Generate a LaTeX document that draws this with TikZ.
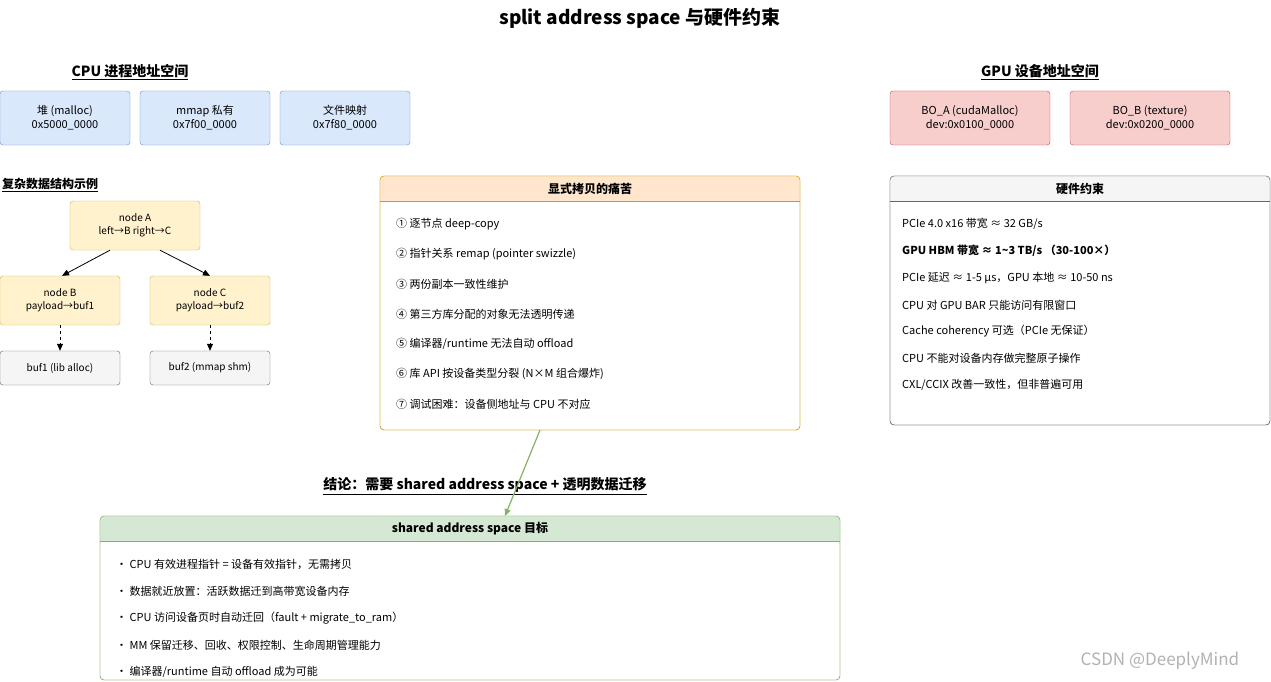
\documentclass[tikz,border=0pt]{standalone}
\usepackage{fontspec}
\setmainfont{Noto Sans CJK SC}
\usetikzlibrary{arrows.meta}
\definecolor{bfill}{HTML}{DAE8FC}\definecolor{bdraw}{HTML}{6C8EBF}
\definecolor{rfill}{HTML}{F8CECC}\definecolor{rdraw}{HTML}{B85450}
\definecolor{yfill}{HTML}{FFF2CC}\definecolor{ydraw}{HTML}{D6B656}
\definecolor{gfill}{HTML}{F5F5F5}\definecolor{gdraw}{HTML}{666666}
\definecolor{ofill}{HTML}{FFE6CC}\definecolor{odraw}{HTML}{D79B00}
\definecolor{grfill}{HTML}{D5E8D4}\definecolor{grdraw}{HTML}{82B366}
\tikzset{
 box/.style={draw, rounded corners=3pt, align=center, inner sep=0pt, font=\fontsize{11}{14}\selectfont},
 item/.style={anchor=west, inner sep=0pt, font=\fontsize{11}{13}\selectfont},
 head/.style={font=\bfseries\fontsize{12}{14}\selectfont, inner sep=0pt},
 sect/.style={font=\bfseries\fontsize{14}{16}\selectfont, inner sep=1pt},
 arr/.style={-{Triangle[length=7pt,width=6pt]}, line width=0.8pt},
}
\newcommand{\ul}[1]{\underline{#1}}
\newcommand{\panel}[7]{% x1,y1,x2,y2,yh,fill,draw
 \draw[#7, fill=white, rounded corners=4pt] (#1,#2) rectangle (#3,#4);
 \fill[#6, rounded corners=4pt] (#1,#2) rectangle (#3,#5+6);
 \fill[white] (#1+0.6,#5) rectangle (#3-0.6,#5+7);
 \draw[#7] (#1,#5) -- (#3,#5);
 \draw[#7, rounded corners=4pt] (#1,#2) rectangle (#3,#4);}
\begin{document}
\begin{tikzpicture}[x=1pt,y=-1pt]
\useasboundingbox[fill=white] (0,0) rectangle (1271,682);
\node[font=\bfseries\fontsize{19}{22}\selectfont] (title) at (640,18) {split address space 与硬件约束};
\node[sect] (cpuh) at (130,72) {\ul{CPU 进程地址空间}};
\node[sect] (gpuh) at (1040,72) {\ul{GPU 设备地址空间}};
\node[box, fill=bfill, draw=bdraw, minimum width=130pt, minimum height=54pt] (heap) at (65,118) {堆 (malloc)\\0x5000\_0000};
\node[box, fill=bfill, draw=bdraw, minimum width=130pt, minimum height=54pt] (mmap) at (205,118) {mmap 私有\\0x7f00\_0000};
\node[box, fill=bfill, draw=bdraw, minimum width=130pt, minimum height=54pt] (file) at (345,118) {文件映射\\0x7f80\_0000};
\node[box, fill=rfill, draw=rdraw, minimum width=160pt, minimum height=54pt] (boa) at (970,118) {BO\_A (cudaMalloc)\\dev:0x0100\_0000};
\node[box, fill=rfill, draw=rdraw, minimum width=160pt, minimum height=54pt] (bob) at (1150,118) {BO\_B (texture)\\dev:0x0200\_0000};
\node[head, anchor=west] (cx) at (2,185) {\ul{复杂数据结构示例}};
\node[box, fill=yfill, draw=ydraw, minimum width=130pt, minimum height=49pt, font=\fontsize{10}{13}\selectfont] (na) at (135,225.5) {node A\\left→B right→C};
\node[box, fill=yfill, draw=ydraw, minimum width=120pt, minimum height=49pt, font=\fontsize{10}{13}\selectfont] (nb) at (60,300.5) {node B\\payload→buf1};
\node[box, fill=yfill, draw=ydraw, minimum width=120pt, minimum height=49pt, font=\fontsize{10}{13}\selectfont] (nc) at (210,300.5) {node C\\payload→buf2};
\node[box, fill=gfill, draw=gdraw, minimum width=120pt, minimum height=34pt, font=\fontsize{10}{13}\selectfont] (b1) at (60,368) {buf1 (lib alloc)};
\node[box, fill=gfill, draw=gdraw, minimum width=120pt, minimum height=34pt, font=\fontsize{10}{13}\selectfont] (b2) at (210,368) {buf2 (mmap shm)};
\draw[arr] ([xshift=-25pt]na.south) -- ([xshift=2pt]nb.north);
\draw[arr] ([xshift=25pt]na.south) -- (nc.north);
\draw[arr, dashed] (nb.south) -- (b1.north);
\draw[arr, dashed] (nc.south) -- (b2.north);
% pain box
\panel{380}{176}{800}{430}{201}{ofill}{odraw}
\node[head] (ph) at (590,189) {显式拷贝的痛苦};
\coordinate (pbot) at (540,430);
\node[item] (p1) at (396,224) {① 逐节点 deep-copy};
\node[item] (p2) at (396,254) {② 指针关系 remap (pointer swizzle)};
\node[item] (p3) at (396,284) {③ 两份副本一致性维护};
\node[item] (p4) at (396,314) {④ 第三方库分配的对象无法透明传递};
\node[item] (p5) at (396,344) {⑤ 编译器/runtime 无法自动 offload};
\node[item] (p6) at (396,374) {⑥ 库 API 按设备类型分裂 (N×M 组合爆炸)};
\node[item] (p7) at (396,404) {⑦ 调试困难：设备侧地址与 CPU 不对应};
% hardware
\panel{890}{176}{1270}{425}{201}{gfill}{gdraw}
\node[head] (hh) at (1080,189) {硬件约束};
\node[item] (h1) at (902,224) {PCIe 4.0 x16 带宽 ≈ 32 GB/s};
\node[item, font=\bfseries\fontsize{11}{13}\selectfont] (h2) at (902,251) {GPU HBM 带宽 ≈ 1\textasciitilde3 TB/s （30-100×）};
\node[item] (h3) at (902,278) {PCIe 延迟 ≈ 1-5 μs，GPU 本地 ≈ 10-50 ns};
\node[item] (h4) at (902,305) {CPU 对 GPU BAR 只能访问有限窗口};
\node[item] (h5) at (902,331) {Cache coherency 可选（PCIe 无保证）};
\node[item] (h6) at (902,358) {CPU 不能对设备内存做完整原子操作};
\node[item] (h7) at (902,385) {CXL/CCIX 改善一致性，但非普遍可用};
% conclusion
\node[sect] (conc) at (485,486) {\ul{结论：需要 shared address space + 透明数据迁移}};
\panel{100}{516}{840}{680}{541}{grfill}{grdraw}
\node[head] (gh) at (470,528.5) {shared address space 目标};
\coordinate (gtop) at (505,516);
\node[item] (g1) at (116,564) {• CPU 有效进程指针 = 设备有效指针，无需拷贝};
\node[item] (g2) at (116,591) {• 数据就近放置：活跃数据迁到高带宽设备内存};
\node[item] (g3) at (116,618) {• CPU 访问设备页时自动迁回（fault + migrate\_to\_ram）};
\node[item] (g4) at (116,645) {• MM 保留迁移、回收、权限控制、生命周期管理能力};
\node[item] (g5) at (116,672) {• 编译器/runtime 自动 offload 成为可能};
\draw[arr, grdraw, line width=1.2pt] (pbot) -- (gtop);
\node[text=gray!60, font=\fontsize{17}{20}\selectfont, inner sep=0pt] (wm) at (1160,661) {CSDN @DeeplyMind};
\end{tikzpicture}
\end{document}
